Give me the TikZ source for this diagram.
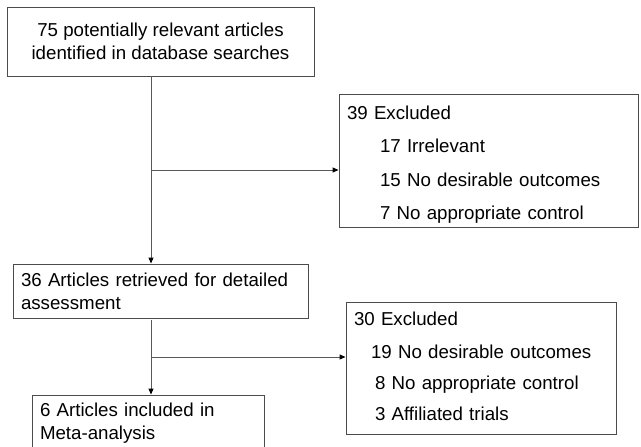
\documentclass[tikz,border=0pt]{standalone}
\usepackage{fontspec}
\setmainfont{Liberation Sans}
\usetikzlibrary{arrows.meta}
\tikzset{
  box/.style={draw=black!70, line width=0.9pt, inner xsep=8pt, inner ysep=0pt,
    font=\fontsize{18.7}{23}\selectfont},
  flow/.style={draw=black!65, line width=1pt, -{Triangle[length=6pt,width=5pt,color=black]}}
}
\begin{document}
\begin{tikzpicture}[x=1pt,y=-1pt]
      \clip (0,0) rectangle (641,447);
      \fill[white] (0,0) rectangle (641,447);
      \node[box, align=center, minimum width=307pt, minimum height=69pt]
        (search) at (160.5,41.5) {75 potentially relevant articles\\identified in database searches};
      \node[box, align=left, text width=279pt, minimum width=295pt, minimum height=54pt]
        (retrieved) at (160.5,291) {36 Articles retrieved for detailed\\assessment};
      \node[box, align=left, text width=216pt, minimum width=232pt, minimum height=56pt]
        (included) at (148,423) {6 Articles included in\\Meta-analysis};
      \node[box, align=left, text width=283pt, minimum width=299pt, minimum height=133pt]
        (excl1) at (488.5,160.5) {\rule{0pt}{22pt}39 Excluded\\[10.5pt]
          \hspace*{33pt}17 Irrelevant\\[10.5pt]
          \hspace*{33pt}15 No desirable outcomes\\[10.5pt]
          \hspace*{33pt}7 No appropriate control};
      \node[box, align=left, text width=254pt, minimum width=270pt, minimum height=132pt]
        (excl2) at (481,368) {30 Excluded\\[10pt]
          \hspace*{17pt}19 No desirable outcomes\\[8pt]
          \hspace*{21pt}8 No appropriate control\\[8pt]
          \hspace*{21pt}3 Affiliated trials\vspace*{3pt}};
      \coordinate (j1) at (151,170);
      \coordinate (j2) at (151,357);
      \begin{scope}[flow]
        \draw (search.south -| j1) -- (retrieved.north -| j1);
        \draw (j1) -- (j1 -| excl1.west);
        \draw ([yshift=-2pt]retrieved.south -| j2) -- (included.north -| j2);
        \draw (j2) -- (j2 -| excl2.west);
      \end{scope}
    \end{tikzpicture}
\end{document}
